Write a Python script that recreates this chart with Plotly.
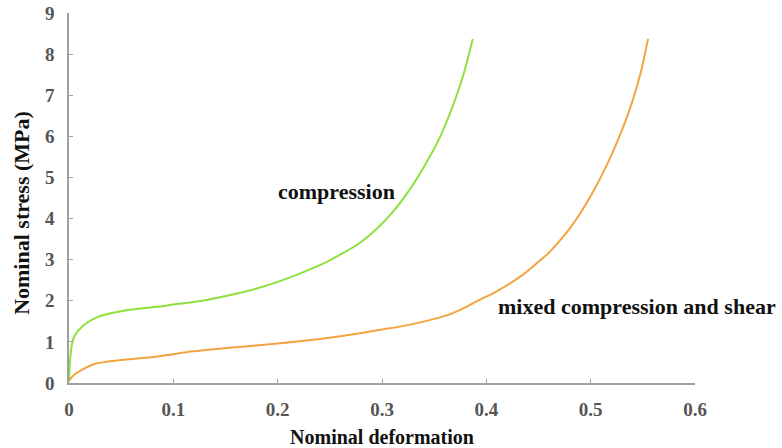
import plotly.graph_objects as go

# Stress–strain curves (nominal deformation vs nominal stress, MPa)
comp_x = [0, 0.002, 0.005, 0.013, 0.029, 0.055, 0.087, 0.1, 0.12, 0.14, 0.16, 0.18,
          0.2, 0.22, 0.24, 0.26, 0.28, 0.295, 0.31, 0.325, 0.34, 0.355, 0.368, 0.378, 0.387]
comp_y = [0.04, 0.81, 1.13, 1.38, 1.62, 1.77, 1.86, 1.91, 1.97, 2.06, 2.17, 2.3,
          2.46, 2.65, 2.86, 3.12, 3.43, 3.75, 4.15, 4.65, 5.25, 5.95, 6.75, 7.5, 8.37]

mixed_x = [0, 0.005, 0.023, 0.055, 0.087, 0.119, 0.151, 0.2, 0.25, 0.3, 0.327, 0.359,
           0.375, 0.391, 0.41, 0.423, 0.435, 0.45, 0.46, 0.47, 0.48, 0.49, 0.5, 0.51,
           0.52, 0.53, 0.54, 0.548, 0.555]
mixed_y = [0.05, 0.2, 0.45, 0.57, 0.65, 0.77, 0.85, 0.96, 1.1, 1.3, 1.42, 1.62,
           1.78, 1.99, 2.23, 2.43, 2.63, 2.95, 3.17, 3.45, 3.76, 4.13, 4.55, 5.02,
           5.55, 6.15, 6.85, 7.55, 8.37]

x_ticks = [0, 0.1, 0.2, 0.3, 0.4, 0.5, 0.6]
x_tick_text = ["0", "0.1", "0.2", "0.3", "0.4", "0.5", "0.6"]
y_ticks = [0, 1, 2, 3, 4, 5, 6, 7, 8, 9]

SERIF = "Liberation Serif"

fig = go.Figure()
fig.add_trace(go.Scatter(x=comp_x, y=comp_y, mode="lines",
                         line=dict(color="#8ee03c", width=2, shape="spline", smoothing=0.8),
                         name="compression", showlegend=False))
fig.add_trace(go.Scatter(x=mixed_x, y=mixed_y, mode="lines",
                         line=dict(color="#f2a441", width=2, shape="spline", smoothing=0.8),
                         name="mixed compression and shear", showlegend=False))

# Curve labels
fig.add_annotation(x=0.256, y=4.66, text="<b>compression</b>", showarrow=False,
                   font=dict(family=SERIF, size=22, color="#111"))
fig.add_annotation(x=0.544, y=1.86, text="<b>mixed compression and shear</b>", showarrow=False,
                   font=dict(family=SERIF, size=22, color="#111"))

# Vertical axis title, placed slightly below the plot-area centre
fig.add_annotation(xref="paper", yref="paper", x=-0.075, y=0.46, xanchor="center", yanchor="middle",
                   text="<b>Nominal stress (MPa)</b>", textangle=-90, showarrow=False,
                   font=dict(family=SERIF, size=22, color="#111"))

axis_common = dict(showline=True, linecolor="#a0a0a0", linewidth=1.5, ticks="inside", ticklen=4,
                   tickcolor="#a0a0a0", showgrid=False, zeroline=False, automargin=False,
                   tickfont=dict(family=SERIF, size=19, color="#555", weight="bold"))

fig.update_xaxes(range=[0, 0.6], tickvals=x_ticks, ticktext=x_tick_text, ticklabelstandoff=8,
                 title=dict(text="<b>Nominal deformation</b>", font=dict(family=SERIF, size=20, color="#111"), standoff=17),
                 **axis_common)
fig.update_yaxes(range=[0, 9], tickvals=y_ticks, ticklabelstandoff=9, **axis_common)

fig.update_layout(width=782, height=448, margin=dict(l=69, r=87, t=13, b=65),
                  plot_bgcolor="white", paper_bgcolor="white")

fig.write_html("out.html")
